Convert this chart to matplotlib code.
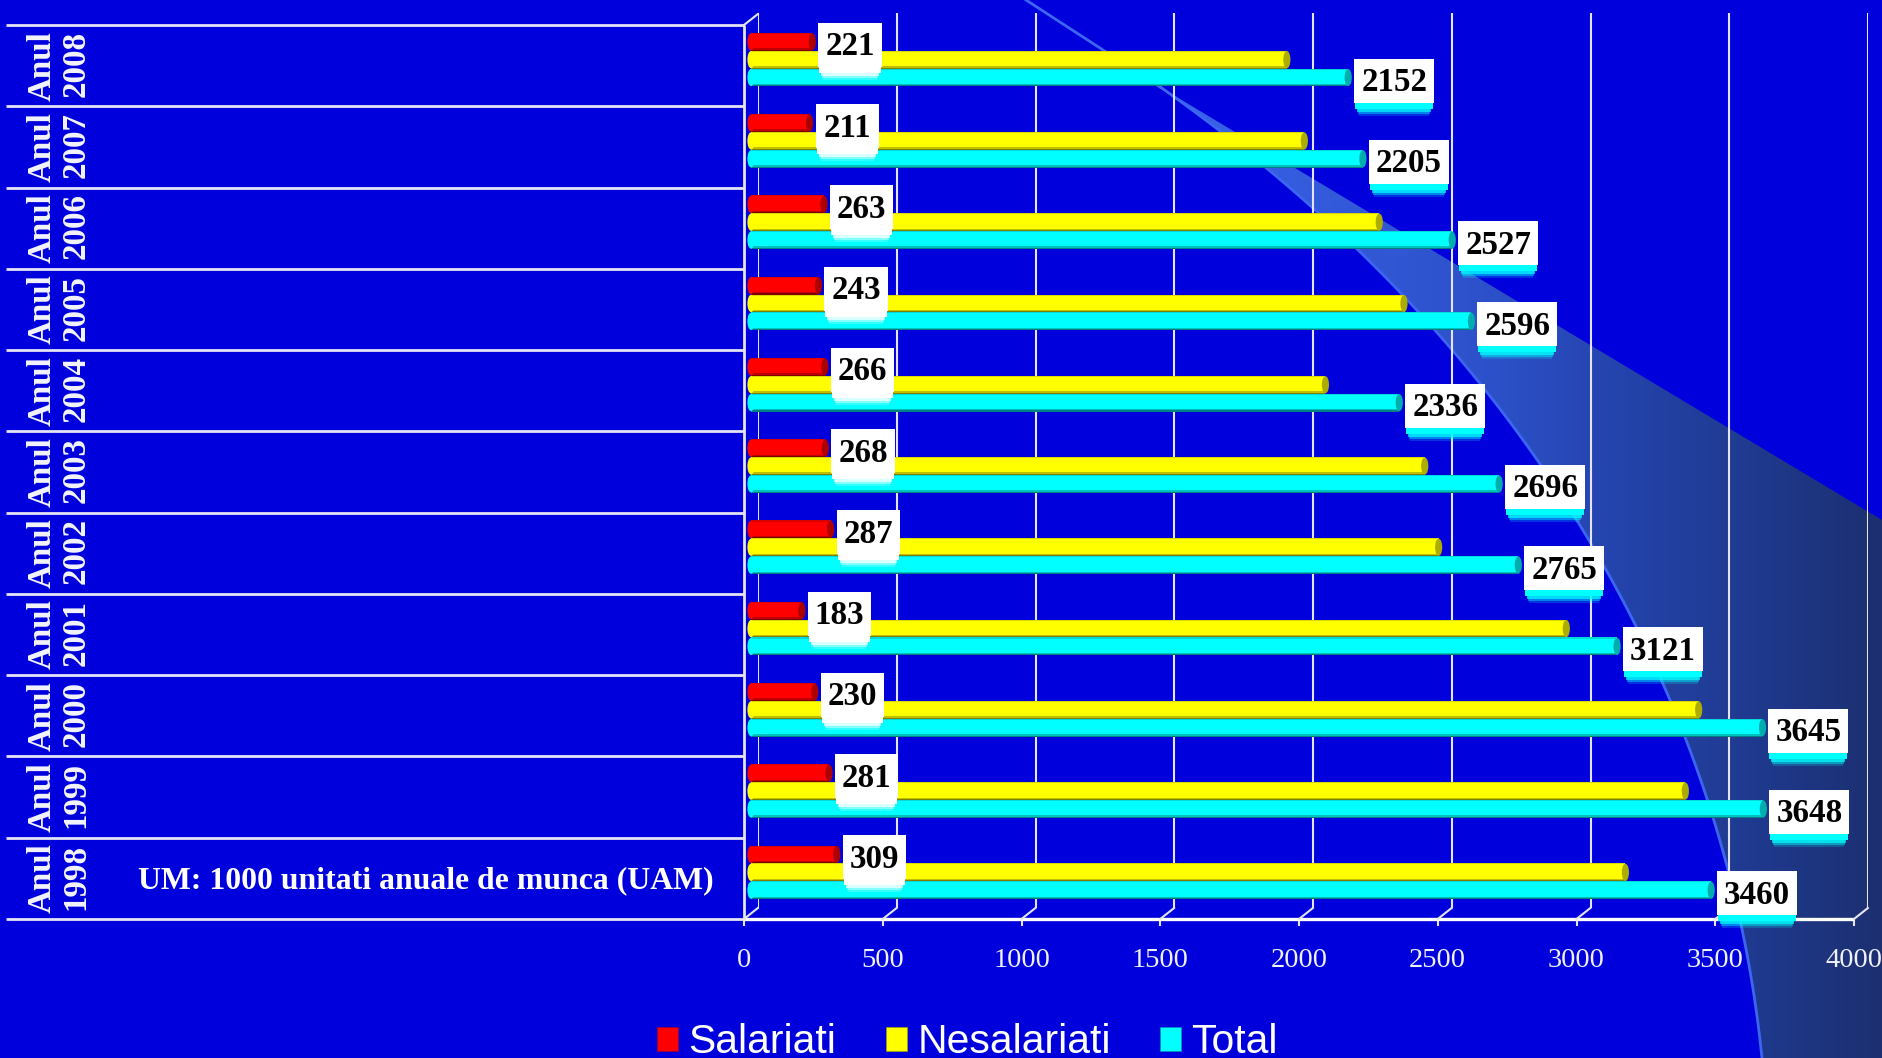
import numpy as np
import matplotlib
matplotlib.use('Agg')
import matplotlib.pyplot as plt
from matplotlib.patches import Ellipse, Patch, PathPatch, Rectangle
from matplotlib.path import Path

# Data, bottom row first
years = ['1998', '1999', '2000', '2001', '2002', '2003', '2004', '2005', '2006', '2007', '2008']
salariati = [309, 281, 230, 183, 287, 268, 266, 243, 263, 211, 221]
nesalariati = [3151, 3367, 3415, 2938, 2478, 2428, 2070, 2353, 2264, 1994, 1931]
total = [3460, 3648, 3645, 3121, 2765, 2696, 2336, 2596, 2527, 2205, 2152]
x_ticks = [0, 500, 1000, 1500, 2000, 2500, 3000, 3500, 4000]

W, H = 1882, 1058
BG = '#0000dc'
GRID = '#e4e4f4'
# pixels per data unit on the two axes
PX_X = 1110 / 4000
PX_Y = 894 / 11

plt.rcParams['font.family'] = ['Liberation Serif', 'DejaVu Sans']


def px_axes(fig, left, top, right, bottom, zorder):
    ax = fig.add_axes([left / W, 1 - bottom / H, (right - left) / W, (bottom - top) / H], zorder=zorder)
    ax.patch.set_visible(False)
    ax.set_xlim(0, 4000)
    ax.set_ylim(-0.5, 10.5)
    for s in ax.spines.values():
        s.set_visible(False)
    return ax


def shade(color, f):
    return tuple(c * f for c in matplotlib.colors.to_rgb(color))


def draw_background(fig):
    ax = fig.add_axes([0, 0, 1, 1], zorder=0)
    ax.set_xlim(0, W)
    ax.set_ylim(H, 0)
    ax.axis('off')

    # swoosh edges
    ya = np.array([87, 170, 250, 330, 393, 543, 737, 800, 872, 933, 1058])
    xa = np.array([1160, 1270, 1357, 1435, 1487, 1592, 1683, 1708, 1730, 1742, 1762])
    yy = np.linspace(87, 1058, 80)
    xx = np.polyval(np.polyfit(ya, xa, 5), yy)
    verts = [(1160, 87), (1882, 520), (1882, 1058)] + list(zip(xx[::-1], yy[::-1])) + [(1160, 87)]
    clip = PathPatch(Path(verts), fc='none', ec='none')
    ax.add_patch(clip)

    stops = np.array([[58, 100, 236], [44, 80, 200], [37, 69, 176], [31, 58, 143], [28, 47, 112]]) / 255
    pos = np.array([1160, 1500, 1600, 1750, 1882])
    cols = np.arange(1160, 1883)
    grad = np.stack([np.interp(cols, pos, stops[:, i]) for i in range(3)], axis=-1)[None, :, :]
    im = ax.imshow(grad, extent=[1160, 1882, 1058, 0], aspect='auto', zorder=1)
    im.set_clip_path(clip)
    ax.set_xlim(0, W)
    ax.set_ylim(H, 0)

    ax.plot(xx, yy, color='#3c66f2', lw=2, zorder=2)
    ax.plot([1026, 1160], [0, 87], color='#3c66f2', lw=2, zorder=2)


def draw_bars(ax, y, values, color):
    h = 0.22
    bands = [(0.0, 0.06, 0.5), (0.06, 0.14, 0.75), (0.14, 0.94, 1.0), (0.94, 1.0, 0.85)]
    for lo, hi, f in bands:
        ax.barh(y + h * (lo + hi) / 2 - h / 2, values, height=h * (hi - lo), color=shade(color, f), lw=0, zorder=3)
    for yi, v in zip(y, values):
        ax.add_patch(Ellipse((0, yi), 26, h * 0.96, fc=color, ec='none', zorder=3, clip_on=False))
        ax.add_patch(Ellipse((v, yi), 26, h * 0.96, fc=shade(color, 0.68), ec='none', zorder=4, clip_on=False))


def draw_labels(ax, y, values, glow):
    for yi, v in zip(y, values):
        text = str(v)
        w_px = 14 + 16.5 * len(text)
        left = v + 6 / PX_X
        width = w_px / PX_X
        cy = yi - 3 / PX_Y
        height = 44 / PX_Y
        # soft glow hanging below the box
        for drop, inset, a in [(13, 5, 0.2), (11, 4, 0.4), (9, 3, 0.7), (6, 1, 1.0)]:
            ax.add_patch(Rectangle((left + inset / PX_X, cy - height / 2 - drop / PX_Y),
                                   width - 2 * inset / PX_X, height, fc=glow, ec='none', alpha=a,
                                   zorder=8, clip_on=False))
        ax.add_patch(Rectangle((left, cy - height / 2), width, height, fc='white', ec='none', zorder=9, clip_on=False))
        ax.text(left + width / 2, cy - 10.5 / PX_Y, text, ha='center', va='baseline', color='black',
                fontsize=23.8, fontweight='bold', zorder=10)


fig = plt.figure(figsize=(W / 100, H / 100), dpi=100, facecolor=BG)
draw_background(fig)

# back wall with grid, bars half way, front axis with labels
ax_back = px_axes(fig, 758, 13, 1868, 908, 1)
ax_back.set_xticks(x_ticks)
ax_back.set_yticks([])
ax_back.tick_params(length=0, labelbottom=False)
ax_back.grid(axis='x', color=GRID, lw=1.5)

ax_bars = px_axes(fig, 751, 19, 1861, 913, 3)
ax_bars.set_xticks([])
ax_bars.set_yticks([])
ypos = np.arange(len(years))
draw_bars(ax_bars, ypos + 0.22, salariati, '#ff0000')
draw_bars(ax_bars, ypos, nesalariati, '#ffff00')
draw_bars(ax_bars, ypos - 0.22, total, '#00ffff')
draw_labels(ax_bars, ypos - 0.22, total, '#00ffff')
draw_labels(ax_bars, ypos + 0.22, salariati, '#ffffff')

ax = px_axes(fig, 744, 25, 1854, 919, 2)
ax.set_xticks(x_ticks)
ax.tick_params(axis='x', length=5, width=1.5, color=GRID, labelcolor='#f0f0f8', labelsize=20.5, pad=16)
ax.set_yticks(ypos)
ax.set_yticklabels(['Anul\n' + yr for yr in years], rotation=90, va='center', ha='right',
                   fontsize=23.8, fontweight='bold', color='#f4f4fc', linespacing=1.1)
ax.tick_params(axis='y', length=0, pad=470)

row_lines = np.arange(-0.5, 11)
ax.hlines(row_lines, -2660, 0, color=GRID, lw=2, clip_on=False)
ax.hlines(-0.5, 0, 4000, color='white', lw=2.4, clip_on=False)
ax.vlines(0, -0.5, 10.5, color=GRID, lw=2, clip_on=False)
for v in x_ticks:
    ax.plot([v, v + 50], [-0.5, -0.365], color=GRID, lw=1.5, clip_on=False)
ax.plot([0, 50], [10.5, 10.635], color=GRID, lw=1.5, clip_on=False)

ax.text(-2183, -0.03, 'UM: 1000 unitati anuale de munca (UAM)', color='white', fontsize=22.9,
        fontweight='bold', va='center', ha='left')

handles = [Patch(fc='#ff0000', ec='#a00030', lw=0.5, label='Salariati'),
           Patch(fc='#ffff00', ec='#a0a000', lw=0.5, label='Nesalariati'),
           Patch(fc='#00ffff', ec='#0090c0', lw=0.5, label='Total')]
fig.legend(handles=handles, ncol=3, loc='lower left', bbox_to_anchor=(657 / W, -0.003), frameon=False,
           prop={'family': 'Liberation Sans', 'size': 29.4}, labelcolor='white', borderpad=0, borderaxespad=0,
           handlelength=0.525, handleheight=0.525, handletextpad=0.25, columnspacing=1.2)

fig.savefig('out.png', dpi=100, facecolor=BG)
